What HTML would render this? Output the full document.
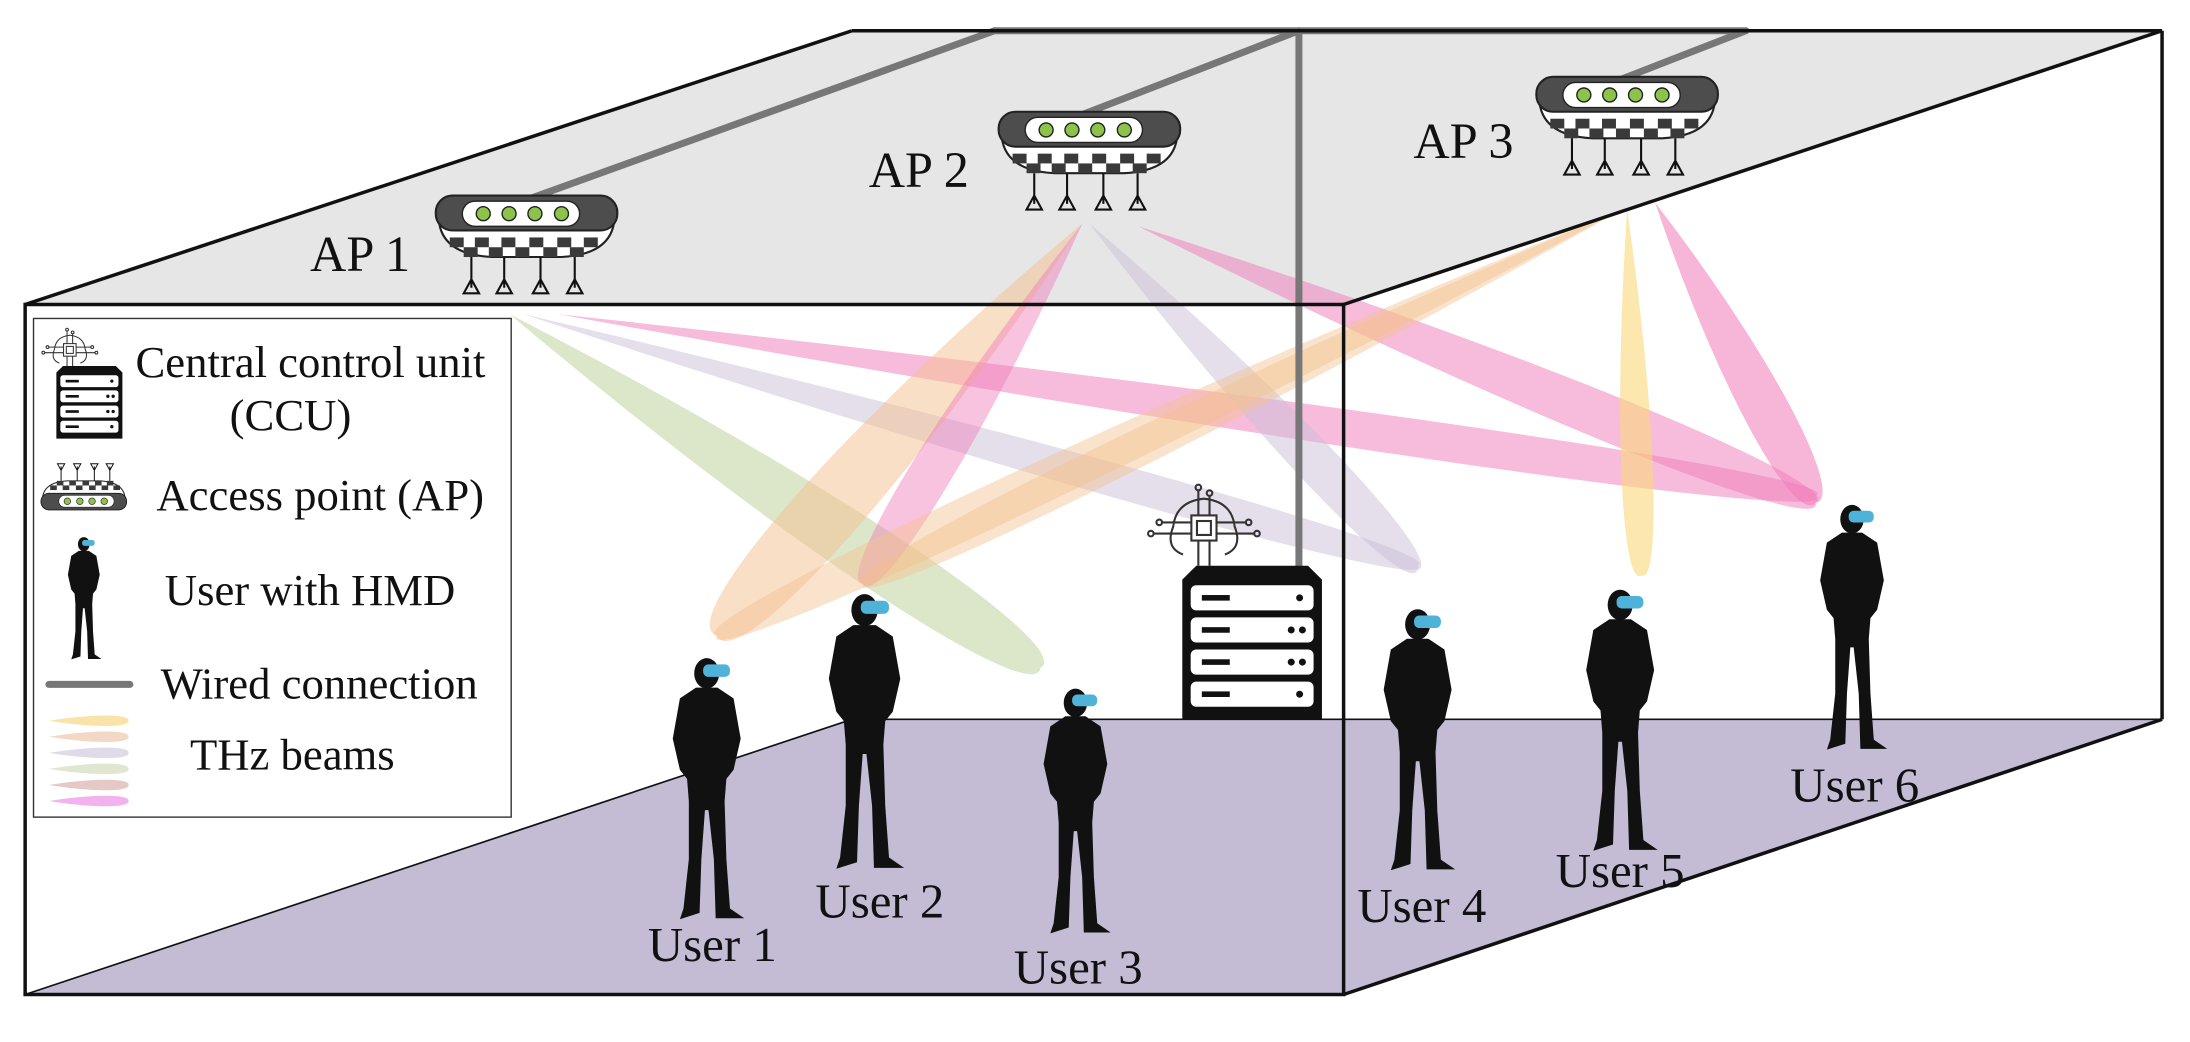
<!DOCTYPE html>
<html><head><meta charset="utf-8"><style>
html,body{margin:0;padding:0;background:#fff;}
svg{display:block;}
text{font-family:"Liberation Serif",serif;fill:#111;}
</style></head><body>
<svg id="s" width="2190" height="1042" viewBox="0 0 1568 746" preserveAspectRatio="none" xmlns="http://www.w3.org/2000/svg">
<defs>
<symbol id="ap" viewBox="0 0 130 70" overflow="visible">
  <path d="M2,14 Q2,42 40,44 L90,44 Q128,42 128,14" fill="#fff" stroke="#222" stroke-width="1.5"/>
  <rect x="0" y="0" width="130" height="25" rx="12" fill="#4d4d4d" stroke="#222" stroke-width="1.5"/>
  <rect x="19" y="4" width="84" height="18" rx="9" fill="#fff" stroke="#222"/>
  <g fill="#8dc34a" stroke="#222" stroke-width="1">
    <circle cx="34" cy="13" r="5"/><circle cx="52.5" cy="13" r="5"/><circle cx="71" cy="13" r="5"/><circle cx="90" cy="13" r="5"/>
  </g>
  <g fill="#3a3a3a">
    <rect x="10" y="30" width="10" height="7"/><rect x="28" y="30" width="10" height="7"/><rect x="47" y="30" width="10" height="7"/><rect x="67" y="30" width="10" height="7"/><rect x="87" y="30" width="10" height="7"/><rect x="106" y="30" width="10" height="7"/>
    <rect x="20" y="37" width="10" height="7"/><rect x="38" y="37" width="10" height="7"/><rect x="57" y="37" width="10" height="7"/><rect x="77" y="37" width="10" height="7"/><rect x="96" y="37" width="10" height="7"/>
  </g>
  <g stroke="#111" stroke-width="1.5" fill="none">
    <path d="M25.5,44 V66 M20,70 L25.5,60 L31,70 Z"/>
    <path d="M49,44 V66 M43.5,70 L49,60 L54.5,70 Z"/>
    <path d="M75,44 V66 M69.5,70 L75,60 L80.5,70 Z"/>
    <path d="M99.5,44 V66 M94,70 L99.5,60 L105,70 Z"/>
  </g>
</symbol>
<symbol id="person" viewBox="0 0 100 300" overflow="visible">
  <ellipse cx="50" cy="22" rx="14" ry="17" fill="#111"/>
  <path d="M38,38 L62,38 L80,50 L88,95 L80,130 L72,140 L70,165 L72,230 L76,285 L92,296 L60,296 L58,230 L52,175 L48,175 L44,230 L42,290 L20,297 L24,285 L30,230 L30,165 L28,140 L20,130 L12,95 L20,50 Z" fill="#111"/>
  <rect x="46" y="12" width="30" height="14" rx="6" fill="#4fb3d9"/>
</symbol>
<symbol id="server" viewBox="0 0 100 110" overflow="visible">
  <path d="M10,0 H90 L100,10 V110 H0 V10 Z" fill="#111"/>
  <g fill="#fff">
    <rect x="6" y="14" width="88" height="18" rx="4"/><rect x="6" y="37" width="88" height="18" rx="4"/><rect x="6" y="60" width="88" height="18" rx="4"/><rect x="6" y="83" width="88" height="18" rx="4"/>
  </g>
  <g fill="#111">
    <rect x="14" y="21" width="20" height="4"/><rect x="14" y="44" width="20" height="4"/><rect x="14" y="67" width="20" height="4"/><rect x="14" y="90" width="20" height="4"/>
    <circle cx="84" cy="23" r="2.5"/><circle cx="78" cy="46" r="2.5"/><circle cx="86" cy="46" r="2.5"/><circle cx="78" cy="69" r="2.5"/><circle cx="86" cy="69" r="2.5"/><circle cx="84" cy="92" r="2.5"/>
  </g>
</symbol>
<symbol id="chip" viewBox="0 0 80 60" overflow="visible">
  <g stroke="#333" stroke-width="1.5" fill="none">
    <path d="M25,50 Q12,45 18,30 Q20,12 40,10 Q60,12 62,30 Q68,45 55,50"/>
    <rect x="31" y="22" width="18" height="18" fill="#fff"/>
    <rect x="35" y="26" width="10" height="10"/>
    <path d="M31,27 H10 M31,35 H4 M49,27 H70 M49,35 H76 M36,22 V4 M44,22 V8 M36,40 V58 M44,40 V58"/>
    <circle cx="8" cy="27" r="2"/><circle cx="2" cy="35" r="2"/><circle cx="72" cy="27" r="2"/><circle cx="78" cy="35" r="2"/><circle cx="36" cy="2" r="2"/><circle cx="44" cy="6" r="2"/>
  </g>
</symbol>
</defs>

<polygon points="18,218 610,22 1548,22 962,218" fill="#e6e6e6"/>
<polygon points="18,712 962,712 1548,515 610,515" fill="#c3bcd4"/>
<g id="beams"></g>

<g stroke="#777" stroke-width="5" fill="none" stroke-linecap="round">
  <line x1="380" y1="142" x2="712" y2="22"/>
  <line x1="775" y1="82" x2="930" y2="22"/>
  <line x1="1160" y1="57" x2="1250" y2="22"/>
  <line x1="712" y1="22" x2="1250" y2="22"/>
  <line x1="930" y1="22" x2="930" y2="405"/>
</g>

<g stroke="#111" stroke-width="2.5" fill="none">
  <line x1="18" y1="218" x2="610" y2="22"/>
  <line x1="610" y1="22" x2="1548" y2="22"/>
  <line x1="1548" y1="22" x2="1548" y2="515"/>
  <line x1="962" y1="218" x2="1548" y2="22"/>
  <line x1="962" y1="712" x2="1548" y2="515"/>
  <rect x="18" y="218" width="944" height="494"/>
</g>
<g stroke="#111" stroke-width="1.2">
  <line x1="18" y1="712" x2="610" y2="515"/>
  <line x1="610" y1="515" x2="1548" y2="515"/>
</g>

<use href="#ap" x="312" y="140" width="130" height="70"/>
<use href="#ap" x="715" y="80" width="130" height="70"/>
<use href="#ap" x="1100" y="55" width="130" height="70"/>
<text x="222" y="194" font-size="36">AP 1</text>
<text x="622" y="134" font-size="36">AP 2</text>
<text x="1012" y="113" font-size="36">AP 3</text>

<use href="#chip" x="822" y="347" width="80" height="60"/>
<use href="#server" x="845" y="405" width="103" height="110"/>

<use href="#person" x="474" y="468" width="64" height="192"/>
<use href="#person" x="585" y="422" width="68" height="202"/>
<use href="#person" x="740" y="490" width="60" height="180"/>
<use href="#person" x="983" y="432" width="64" height="194"/>
<use href="#person" x="1128" y="418" width="64" height="194"/>
<use href="#person" x="1296" y="357" width="60" height="183"/>
<g font-size="35" text-anchor="middle">
<text x="510" y="688">User 1</text>
<text x="630" y="657">User 2</text>
<text x="772" y="704">User 3</text>
<text x="1018" y="660">User 4</text>
<text x="1160" y="635">User 5</text>
<text x="1328" y="574">User 6</text>
</g>

<rect x="24" y="228" width="342" height="357" fill="#fff" stroke="#333" stroke-width="1"/>
<use href="#chip" x="30" y="235" width="40" height="30"/>
<use href="#server" x="40" y="262" width="48" height="52"/>
<use href="#ap" x="28" y="332" width="64" height="33" transform="rotate(180 60 348.5)"/>
<use href="#person" x="43" y="383" width="34" height="90"/>
<line x1="35" y1="490" x2="93" y2="490" stroke="#777" stroke-width="5" stroke-linecap="round"/>
<g id="legbeams"></g>
<g font-size="32">
<text x="97" y="270">Central control unit</text>
<text x="208" y="308" text-anchor="middle">(CCU)</text>
<text x="112" y="365">Access point (AP)</text>
<text x="118" y="433">User with HMD</text>
<text x="115" y="500">Wired connection</text>
<text x="136" y="551">THz beams</text>
</g>

<script>
var NS="http://www.w3.org/2000/svg";
function lobe(g,c,x1,y1,x2,y2,W,op){
  var dx=x2-x1,dy=y2-y1,L=Math.sqrt(dx*dx+dy*dy),a=Math.atan2(dy,dx)*180/Math.PI;
  var p=document.createElementNS(NS,"path");
  p.setAttribute("d","M0,0 C"+(L*0.6)+","+(W*1.1)+" "+(L*1.03)+","+(W*0.9)+" "+L+",0 C"+(L*1.03)+","+(-W*0.9)+" "+(L*0.6)+","+(-W*1.1)+" 0,0 Z");
  p.setAttribute("fill",c);p.setAttribute("fill-opacity",op||0.5);
  p.setAttribute("transform","translate("+x1+","+y1+") rotate("+a+")");
  g.appendChild(p);
}
var b=document.getElementById("beams");
var G="#b9cf96",V="#c9c0d8",P="#f07ab8",O="#f5c08f",Y="#fad77a";
lobe(b,G,365,225,745,478,28);
lobe(b,V,375,225,1015,405,16);
lobe(b,P,400,225,1300,355,18);
lobe(b,O,775,160,513,455,32);
lobe(b,P,775,160,618,418,20,0.45);
lobe(b,V,780,160,1015,408,20);
lobe(b,P,815,162,1300,360,22,0.5);
lobe(b,O,1165,148,513,455,20,0.45);
lobe(b,O,1165,148,618,418,18,0.45);
lobe(b,Y,1165,150,1175,412,15,0.6);
lobe(b,P,1185,145,1300,360,22,0.55);
var lg=document.getElementById("legbeams");
var cs=["#fae3a8","#f4d8c6","#e0dbe8","#e0e6cf","#e6c8c6","#f2b2ee"];
for(var i=0;i<6;i++){lobe(lg,cs[i],35,516+i*11.5,92,516+i*11.5,5,1);}
</script>
</svg>
</body></html>
